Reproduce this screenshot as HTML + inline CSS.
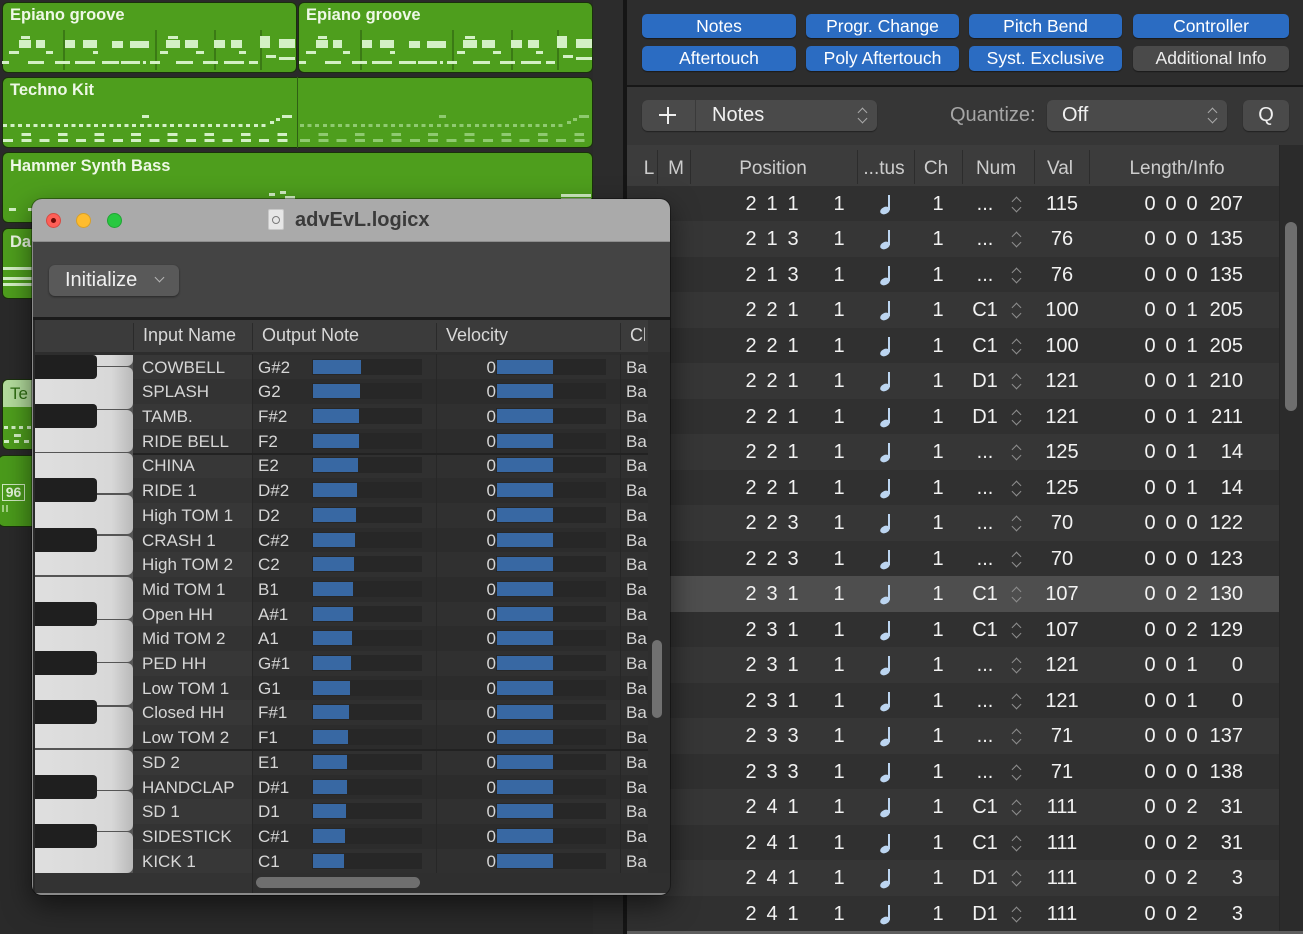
<!DOCTYPE html>
<html><head><meta charset="utf-8">
<style>
*{box-sizing:border-box;margin:0;padding:0}
body{width:1303px;height:934px;position:relative;overflow:hidden;background:#2a2a2a;font-family:"Liberation Sans",sans-serif}
.a{position:absolute}
.rg{position:absolute;background:#4e9e1d;border:1px solid #1a300c;border-radius:6px;overflow:hidden}
.tn{position:absolute;color:#eef8e6;font-weight:bold;font-size:16.5px;white-space:nowrap}
.n{position:absolute;background:#d3f0c5;height:3px}
.f .n{background:#8fca70}
.vln{position:absolute;background:#3b7a15;width:2px;top:30px;height:40px}
.bt{position:absolute;height:24px;border-radius:5px;background:#2b6cc2;color:#fff;font-size:17.5px;text-align:center;line-height:24px;box-shadow:0 1px 1px rgba(0,0,0,.45)}
.hd{position:absolute;top:145px;height:42px;line-height:48px;font-size:19px;color:#cdcdcd;transform:translateX(-50%);white-space:nowrap}
.hs{position:absolute;top:150px;height:34px;width:1px;background:#2c2c2c}
.rw{position:absolute;left:627px;width:652px;height:35.5px;background:#303030}
.rw.o{background:#363636}
.rw span{position:absolute;top:0;line-height:36px;font-size:20px;color:#f2f2f2;transform:translateX(-50%);white-space:nowrap}
.rw .p1{left:124px}.rw .p2{left:145px}.rw .p3{left:166px}.rw .q{left:212px}.rw .ch{left:311px}.rw .nm{left:358px}.rw .vl{left:435px}
.rw .l1{left:523px}.rw .l2{left:544px}.rw .l3{left:565px}.rw .l4{left:616px;transform:translateX(-100%)}
.nt{position:absolute;left:252px;top:9px;width:12px;height:19px}
.nt::before{content:"";position:absolute;right:1px;top:0;width:2px;height:15px;background:#bcd5f0}
.nt::after{content:"";position:absolute;left:1px;bottom:0;width:10px;height:7px;border-radius:50%;background:#bcd5f0;transform:rotate(-25deg)}
.cv{position:absolute;left:383px;top:9px;width:12px;height:18px}
.cv::before{content:"";position:absolute;left:2.5px;top:3px;width:6px;height:6px;border-left:1.6px solid #8d8d8d;border-top:1.6px solid #8d8d8d;transform:rotate(45deg)}
.cv::after{content:"";position:absolute;left:2.5px;top:9px;width:6px;height:6px;border-right:1.6px solid #8d8d8d;border-bottom:1.6px solid #8d8d8d;transform:rotate(45deg)}
.win{position:absolute;left:32px;top:199px;width:638px;height:696px;border-radius:10px;overflow:hidden;background:#2d2d2d;box-shadow:0 10px 28px rgba(0,0,0,.55),0 0 0 1px rgba(0,0,0,.35)}
.wr{position:absolute;left:101px;width:515px;height:24.7px;background:#303030;overflow:hidden}
.wr.o{background:#2c2c2c}
.wr .nc{position:absolute;left:0;top:0;width:119px;height:100%;background:rgba(255,255,255,.035)}
.wr span{position:absolute;top:0;line-height:25px;font-size:17px;color:#d6d6d6;white-space:nowrap}
.wr .in{left:9px}.wr .on{left:125px}
.wr .tr{position:absolute;top:4px;height:16px;background:#272727}
.wr .fl{position:absolute;top:5px;height:14px;background:#3868a3}
.wr .z{left:363px;transform:translateX(-100%)}
.wr .ba{left:493px}
.wk{position:absolute;left:0;width:98px;background:linear-gradient(90deg,#dfdfdf 0,#d8d8d8 78%,#b9b9b9 100%);border-radius:0 6px 6px 0}
.bk{position:absolute;left:0;width:62px;height:24px;background:#1f1f1f;border-radius:0 4px 4px 0}
.pc{position:absolute;width:10px;height:17px}
.pc::before{content:"";position:absolute;left:2px;top:2px;width:6px;height:6px;border-left:1.5px solid #a9a9a9;border-top:1.5px solid #a9a9a9;transform:rotate(45deg)}
.pc::after{content:"";position:absolute;left:2px;top:8px;width:6px;height:6px;border-right:1.5px solid #a9a9a9;border-bottom:1.5px solid #a9a9a9;transform:rotate(45deg)}
</style></head><body>

<!-- LEFT TRACKS AREA -->
<div class="a" style="left:593px;top:0;width:31px;height:934px;background:#2c2c2c"></div>
<div class="a" style="left:623px;top:0;width:4px;height:934px;background:#151515"></div>

<div class="rg" style="left:2px;top:2px;width:295px;height:71px"></div>
<div class="rg" style="left:298px;top:2px;width:295px;height:71px"></div>
<div class="rg" style="left:2px;top:77px;width:591px;height:71px"></div>
<div class="a" style="left:297px;top:77px;width:1px;height:71px;background:#2f5f14"></div>
<div class="rg" style="left:2px;top:152px;width:591px;height:71px"></div>
<div class="rg" style="left:2px;top:228px;width:60px;height:71px"></div>
<div class="rg" style="left:2px;top:379px;width:60px;height:71px;background:#4e9e1d"></div>
<div class="a" style="left:3px;top:380px;width:58px;height:27px;background:#b3dc9d;border-radius:5px 5px 0 0"></div>
<div class="rg" style="left:-2px;top:455px;width:64px;height:72px;background:#4a9a1b"></div>

<div class="tn" style="left:10px;top:6px">Epiano groove</div>
<div class="tn" style="left:306px;top:6px">Epiano groove</div>
<div class="tn" style="left:10px;top:81px">Techno Kit</div>
<div class="tn" style="left:10px;top:157px">Hammer Synth Bass</div>
<div class="tn" style="left:10px;top:233px">Da</div>
<div class="tn" style="left:10px;top:384px;color:#2e6d12;font-weight:normal;font-size:17px">Te</div>
<div class="a" style="left:2px;top:484px;width:23px;height:17px;border:1px solid #cfe8c0;color:#e3f3d9;font-size:14px;font-weight:bold;line-height:15px;text-align:center">96</div>
<div class="n" style="left:2px;top:505px;width:2px;height:7px;background:#9fd080"></div>
<div class="n" style="left:6px;top:505px;width:2px;height:7px;background:#9fd080"></div>

<!-- Epiano pattern -->
<div class="a" style="left:0;top:0">
<div class="vln" style="left:63px"></div><div class="vln" style="left:155px"></div><div class="vln" style="left:214px"></div><div class="vln" style="left:260px"></div>
<div class="n" style="left:19px;top:40px;width:12px;height:8px"></div><div class="n" style="left:21px;top:36px;width:9px"></div>
<div class="n" style="left:36px;top:40px;width:9px;height:8px"></div>
<div class="n" style="left:65px;top:40px;width:10px;height:8px"></div>
<div class="n" style="left:83px;top:40px;width:14px;height:8px"></div>
<div class="n" style="left:112px;top:41px;width:11px;height:7px"></div>
<div class="n" style="left:130px;top:41px;width:19px;height:7px"></div>
<div class="n" style="left:166px;top:40px;width:14px;height:8px"></div><div class="n" style="left:168px;top:36px;width:10px"></div>
<div class="n" style="left:185px;top:40px;width:13px;height:8px"></div>
<div class="n" style="left:214px;top:40px;width:11px;height:8px"></div>
<div class="n" style="left:231px;top:40px;width:11px;height:8px"></div>
<div class="n" style="left:260px;top:36px;width:10px;height:12px"></div>
<div class="n" style="left:279px;top:39px;width:16px;height:9px"></div>
<div class="n" style="left:9px;top:51px;width:10px"></div><div class="n" style="left:46px;top:51px;width:7px"></div>
<div class="n" style="left:93px;top:51px;width:5px"></div><div class="n" style="left:160px;top:51px;width:8px"></div>
<div class="n" style="left:196px;top:51px;width:8px"></div><div class="n" style="left:239px;top:51px;width:7px"></div>
<div class="n" style="left:266px;top:55px;width:10px"></div><div class="n" style="left:279px;top:57px;width:16px"></div>
<div class="n" style="left:2px;top:61px;width:7px"></div><div class="n" style="left:28px;top:61px;width:16px"></div>
<div class="n" style="left:55px;top:61px;width:15px"></div><div class="n" style="left:75px;top:61px;width:20px"></div>
<div class="n" style="left:102px;top:61px;width:17px"></div><div class="n" style="left:121px;top:61px;width:19px"></div>
<div class="n" style="left:143px;top:61px;width:3px"></div><div class="n" style="left:150px;top:61px;width:10px"></div>
<div class="n" style="left:176px;top:61px;width:17px"></div><div class="n" style="left:203px;top:61px;width:15px"></div>
<div class="n" style="left:224px;top:61px;width:20px"></div><div class="n" style="left:249px;top:61px;width:9px"></div>
</div>
<div class="a" style="left:297px;top:0">
<div class="vln" style="left:63px"></div><div class="vln" style="left:155px"></div><div class="vln" style="left:214px"></div><div class="vln" style="left:260px"></div>
<div class="n" style="left:19px;top:40px;width:12px;height:8px"></div><div class="n" style="left:21px;top:36px;width:9px"></div>
<div class="n" style="left:36px;top:40px;width:9px;height:8px"></div>
<div class="n" style="left:65px;top:40px;width:10px;height:8px"></div>
<div class="n" style="left:83px;top:40px;width:14px;height:8px"></div>
<div class="n" style="left:112px;top:41px;width:11px;height:7px"></div>
<div class="n" style="left:130px;top:41px;width:19px;height:7px"></div>
<div class="n" style="left:166px;top:40px;width:14px;height:8px"></div><div class="n" style="left:168px;top:36px;width:10px"></div>
<div class="n" style="left:185px;top:40px;width:13px;height:8px"></div>
<div class="n" style="left:214px;top:40px;width:11px;height:8px"></div>
<div class="n" style="left:231px;top:40px;width:11px;height:8px"></div>
<div class="n" style="left:260px;top:36px;width:10px;height:12px"></div>
<div class="n" style="left:279px;top:39px;width:16px;height:9px"></div>
<div class="n" style="left:9px;top:51px;width:10px"></div><div class="n" style="left:46px;top:51px;width:7px"></div>
<div class="n" style="left:93px;top:51px;width:5px"></div><div class="n" style="left:160px;top:51px;width:8px"></div>
<div class="n" style="left:196px;top:51px;width:8px"></div><div class="n" style="left:239px;top:51px;width:7px"></div>
<div class="n" style="left:266px;top:55px;width:10px"></div><div class="n" style="left:279px;top:57px;width:16px"></div>
<div class="n" style="left:2px;top:61px;width:7px"></div><div class="n" style="left:28px;top:61px;width:16px"></div>
<div class="n" style="left:55px;top:61px;width:15px"></div><div class="n" style="left:75px;top:61px;width:20px"></div>
<div class="n" style="left:102px;top:61px;width:17px"></div><div class="n" style="left:121px;top:61px;width:19px"></div>
<div class="n" style="left:143px;top:61px;width:3px"></div><div class="n" style="left:150px;top:61px;width:10px"></div>
<div class="n" style="left:176px;top:61px;width:17px"></div><div class="n" style="left:203px;top:61px;width:15px"></div>
<div class="n" style="left:224px;top:61px;width:20px"></div><div class="n" style="left:249px;top:61px;width:9px"></div>
</div>

<!-- Techno pattern -->
<div class="a" style="left:0;top:0">
<div class="n" style="left:3px;top:124px;width:265px;background:repeating-linear-gradient(90deg,#d3f0c5 0 4px,transparent 4px 7.6px)"></div>
<div class="n" style="left:3px;top:133px;width:292px;background:repeating-linear-gradient(90deg,transparent 0 18.3px,#d3f0c5 18.3px 28px,transparent 28px 36.6px)"></div>
<div class="n" style="left:3px;top:139px;width:292px;background:repeating-linear-gradient(90deg,#d3f0c5 0 10px,transparent 10px 18.3px)"></div>
<div class="n" style="left:142px;top:115px;width:7px"></div><div class="n" style="left:270px;top:121px;width:4px"></div>
<div class="n" style="left:276px;top:118px;width:4px"></div><div class="n" style="left:282px;top:115px;width:10px"></div>
</div>
<div class="a f" style="left:297px;top:0">
<div class="n" style="left:3px;top:124px;width:265px;background:repeating-linear-gradient(90deg,#8fca70 0 4px,transparent 4px 7.6px)"></div>
<div class="n" style="left:3px;top:133px;width:290px;background:repeating-linear-gradient(90deg,transparent 0 18.3px,#8fca70 18.3px 28px,transparent 28px 36.6px)"></div>
<div class="n" style="left:3px;top:139px;width:290px;background:repeating-linear-gradient(90deg,#8fca70 0 10px,transparent 10px 18.3px)"></div>
<div class="n" style="left:142px;top:115px;width:7px"></div><div class="n" style="left:270px;top:121px;width:4px"></div>
<div class="n" style="left:276px;top:118px;width:4px"></div><div class="n" style="left:282px;top:115px;width:10px"></div>
</div>
<!-- Hammer -->
<div class="n" style="left:9px;top:208px;width:7px"></div><div class="n" style="left:28px;top:208px;width:4px"></div>
<div class="n" style="left:269px;top:193px;width:6px"></div><div class="n" style="left:280px;top:191px;width:6px"></div>
<div class="n" style="left:285px;top:196px;width:10px"></div>
<div class="n" style="left:561px;top:194px;width:30px"></div><div class="n" style="left:561px;top:198px;width:30px;height:2px"></div>
<!-- Da -->
<div class="n" style="left:3px;top:267px;width:29px"></div><div class="n" style="left:3px;top:277px;width:29px"></div><div class="n" style="left:3px;top:283px;width:29px"></div>
<!-- Te -->
<div class="n" style="left:4px;top:426px;width:28px;background:repeating-linear-gradient(90deg,#d3f0c5 0 4px,transparent 4px 7.6px)"></div>
<div class="n" style="left:4px;top:434px;width:28px;background:repeating-linear-gradient(90deg,transparent 0 10px,#d3f0c5 10px 17px,transparent 17px 22px)"></div>
<div class="n" style="left:4px;top:440px;width:28px;background:repeating-linear-gradient(90deg,#d3f0c5 0 5px,transparent 5px 10px)"></div>

<!-- RIGHT PANEL -->
<div class="a" style="left:627px;top:0;width:676px;height:85px;background:#2d2d2d"></div>
<div class="a" style="left:627px;top:85px;width:676px;height:2px;background:#171717"></div>
<div class="a" style="left:627px;top:87px;width:676px;height:58px;background:#363636"></div>
<div class="a" style="left:627px;top:145px;width:652px;height:42px;background:#3c3c3c"></div>
<div class="a" style="left:1279px;top:145px;width:24px;height:789px;background:#2b2b2b;border-left:1px solid #262626"></div>
<div class="a" style="left:1285px;top:222px;width:12px;height:189px;background:#6e6e6e;border-radius:6px"></div>

<div class="bt" style="left:642px;top:14px;width:154px">Notes</div>
<div class="bt" style="left:806px;top:14px;width:153px">Progr. Change</div>
<div class="bt" style="left:969px;top:14px;width:153px">Pitch Bend</div>
<div class="bt" style="left:1133px;top:14px;width:156px">Controller</div>
<div class="bt" style="left:642px;top:46px;width:154px;height:25px">Aftertouch</div>
<div class="bt" style="left:806px;top:46px;width:153px;height:25px">Poly Aftertouch</div>
<div class="bt" style="left:969px;top:46px;width:153px;height:25px">Syst. Exclusive</div>
<div class="bt" style="left:1133px;top:46px;width:156px;height:25px;background:#4a4a4a;color:#eee">Additional Info</div>

<div class="a" style="left:642px;top:100px;width:235px;height:31px;background:#4a4a4a;border-radius:6px;box-shadow:0 1px 1px rgba(0,0,0,.4)"></div>
<div class="a" style="left:695px;top:100px;width:1px;height:31px;background:#3a3a3a"></div>
<div class="a" style="left:659px;top:114px;width:17px;height:2px;background:#eee"></div>
<div class="a" style="left:666.5px;top:106.5px;width:2px;height:17px;background:#eee"></div>
<div class="a" style="left:712px;top:100px;line-height:31px;font-size:20px;color:#f0f0f0">Notes</div>
<div class="pc" style="left:857px;top:107px"></div>
<div class="a" style="left:950px;top:100px;line-height:31px;font-size:20px;color:#a6a6a6">Quantize:</div>
<div class="a" style="left:1047px;top:100px;width:180px;height:31px;background:#4a4a4a;border-radius:6px;box-shadow:0 1px 1px rgba(0,0,0,.4)"></div>
<div class="a" style="left:1062px;top:100px;line-height:31px;font-size:20px;color:#f0f0f0">Off</div>
<div class="pc" style="left:1207px;top:107px"></div>
<div class="a" style="left:1243px;top:100px;width:46px;height:31px;background:#4a4a4a;border-radius:6px;line-height:31px;font-size:20px;color:#f0f0f0;text-align:center;box-shadow:0 1px 1px rgba(0,0,0,.4)">Q</div>

<div class="hs" style="left:657px"></div><div class="hs" style="left:690px"></div><div class="hs" style="left:857px"></div>
<div class="hs" style="left:914px"></div><div class="hs" style="left:962px"></div><div class="hs" style="left:1034px"></div><div class="hs" style="left:1089px"></div>
<div class="hd" style="left:649px">L</div>
<div class="hd" style="left:676px">M</div>
<div class="hd" style="left:773px">Position</div>
<div class="hd" style="left:884px">...tus</div>
<div class="hd" style="left:936px">Ch</div>
<div class="hd" style="left:996px">Num</div>
<div class="hd" style="left:1060px">Val</div>
<div class="hd" style="left:1177px">Length/Info</div>

<div class="rw" style="top:185.5px"><span class="p1">2</span><span class="p2">1</span><span class="p3">1</span><span class="q">1</span><i class="nt"></i><span class="ch">1</span><span class="nm">...</span><i class="cv"></i><span class="vl">115</span><span class="l1">0</span><span class="l2">0</span><span class="l3">0</span><span class="l4">207</span></div>
<div class="rw o" style="top:221px"><span class="p1">2</span><span class="p2">1</span><span class="p3">3</span><span class="q">1</span><i class="nt"></i><span class="ch">1</span><span class="nm">...</span><i class="cv"></i><span class="vl">76</span><span class="l1">0</span><span class="l2">0</span><span class="l3">0</span><span class="l4">135</span></div>
<div class="rw" style="top:256.5px"><span class="p1">2</span><span class="p2">1</span><span class="p3">3</span><span class="q">1</span><i class="nt"></i><span class="ch">1</span><span class="nm">...</span><i class="cv"></i><span class="vl">76</span><span class="l1">0</span><span class="l2">0</span><span class="l3">0</span><span class="l4">135</span></div>
<div class="rw o" style="top:292px"><span class="p1">2</span><span class="p2">2</span><span class="p3">1</span><span class="q">1</span><i class="nt"></i><span class="ch">1</span><span class="nm">C1</span><i class="cv"></i><span class="vl">100</span><span class="l1">0</span><span class="l2">0</span><span class="l3">1</span><span class="l4">205</span></div>
<div class="rw" style="top:327.5px"><span class="p1">2</span><span class="p2">2</span><span class="p3">1</span><span class="q">1</span><i class="nt"></i><span class="ch">1</span><span class="nm">C1</span><i class="cv"></i><span class="vl">100</span><span class="l1">0</span><span class="l2">0</span><span class="l3">1</span><span class="l4">205</span></div>
<div class="rw o" style="top:363px"><span class="p1">2</span><span class="p2">2</span><span class="p3">1</span><span class="q">1</span><i class="nt"></i><span class="ch">1</span><span class="nm">D1</span><i class="cv"></i><span class="vl">121</span><span class="l1">0</span><span class="l2">0</span><span class="l3">1</span><span class="l4">210</span></div>
<div class="rw" style="top:398.5px"><span class="p1">2</span><span class="p2">2</span><span class="p3">1</span><span class="q">1</span><i class="nt"></i><span class="ch">1</span><span class="nm">D1</span><i class="cv"></i><span class="vl">121</span><span class="l1">0</span><span class="l2">0</span><span class="l3">1</span><span class="l4">211</span></div>
<div class="rw o" style="top:434px"><span class="p1">2</span><span class="p2">2</span><span class="p3">1</span><span class="q">1</span><i class="nt"></i><span class="ch">1</span><span class="nm">...</span><i class="cv"></i><span class="vl">125</span><span class="l1">0</span><span class="l2">0</span><span class="l3">1</span><span class="l4">14</span></div>
<div class="rw" style="top:469.5px"><span class="p1">2</span><span class="p2">2</span><span class="p3">1</span><span class="q">1</span><i class="nt"></i><span class="ch">1</span><span class="nm">...</span><i class="cv"></i><span class="vl">125</span><span class="l1">0</span><span class="l2">0</span><span class="l3">1</span><span class="l4">14</span></div>
<div class="rw o" style="top:505px"><span class="p1">2</span><span class="p2">2</span><span class="p3">3</span><span class="q">1</span><i class="nt"></i><span class="ch">1</span><span class="nm">...</span><i class="cv"></i><span class="vl">70</span><span class="l1">0</span><span class="l2">0</span><span class="l3">0</span><span class="l4">122</span></div>
<div class="rw" style="top:540.5px"><span class="p1">2</span><span class="p2">2</span><span class="p3">3</span><span class="q">1</span><i class="nt"></i><span class="ch">1</span><span class="nm">...</span><i class="cv"></i><span class="vl">70</span><span class="l1">0</span><span class="l2">0</span><span class="l3">0</span><span class="l4">123</span></div>
<div class="rw o" style="top:576px;background:#4e4e4e"><span class="p1">2</span><span class="p2">3</span><span class="p3">1</span><span class="q">1</span><i class="nt"></i><span class="ch">1</span><span class="nm">C1</span><i class="cv"></i><span class="vl">107</span><span class="l1">0</span><span class="l2">0</span><span class="l3">2</span><span class="l4">130</span></div>
<div class="rw" style="top:611.5px"><span class="p1">2</span><span class="p2">3</span><span class="p3">1</span><span class="q">1</span><i class="nt"></i><span class="ch">1</span><span class="nm">C1</span><i class="cv"></i><span class="vl">107</span><span class="l1">0</span><span class="l2">0</span><span class="l3">2</span><span class="l4">129</span></div>
<div class="rw o" style="top:647px"><span class="p1">2</span><span class="p2">3</span><span class="p3">1</span><span class="q">1</span><i class="nt"></i><span class="ch">1</span><span class="nm">...</span><i class="cv"></i><span class="vl">121</span><span class="l1">0</span><span class="l2">0</span><span class="l3">1</span><span class="l4">0</span></div>
<div class="rw" style="top:682.5px"><span class="p1">2</span><span class="p2">3</span><span class="p3">1</span><span class="q">1</span><i class="nt"></i><span class="ch">1</span><span class="nm">...</span><i class="cv"></i><span class="vl">121</span><span class="l1">0</span><span class="l2">0</span><span class="l3">1</span><span class="l4">0</span></div>
<div class="rw o" style="top:718px"><span class="p1">2</span><span class="p2">3</span><span class="p3">3</span><span class="q">1</span><i class="nt"></i><span class="ch">1</span><span class="nm">...</span><i class="cv"></i><span class="vl">71</span><span class="l1">0</span><span class="l2">0</span><span class="l3">0</span><span class="l4">137</span></div>
<div class="rw" style="top:753.5px"><span class="p1">2</span><span class="p2">3</span><span class="p3">3</span><span class="q">1</span><i class="nt"></i><span class="ch">1</span><span class="nm">...</span><i class="cv"></i><span class="vl">71</span><span class="l1">0</span><span class="l2">0</span><span class="l3">0</span><span class="l4">138</span></div>
<div class="rw o" style="top:789px"><span class="p1">2</span><span class="p2">4</span><span class="p3">1</span><span class="q">1</span><i class="nt"></i><span class="ch">1</span><span class="nm">C1</span><i class="cv"></i><span class="vl">111</span><span class="l1">0</span><span class="l2">0</span><span class="l3">2</span><span class="l4">31</span></div>
<div class="rw" style="top:824.5px"><span class="p1">2</span><span class="p2">4</span><span class="p3">1</span><span class="q">1</span><i class="nt"></i><span class="ch">1</span><span class="nm">C1</span><i class="cv"></i><span class="vl">111</span><span class="l1">0</span><span class="l2">0</span><span class="l3">2</span><span class="l4">31</span></div>
<div class="rw o" style="top:860px"><span class="p1">2</span><span class="p2">4</span><span class="p3">1</span><span class="q">1</span><i class="nt"></i><span class="ch">1</span><span class="nm">D1</span><i class="cv"></i><span class="vl">111</span><span class="l1">0</span><span class="l2">0</span><span class="l3">2</span><span class="l4">3</span></div>
<div class="rw" style="top:895.5px"><span class="p1">2</span><span class="p2">4</span><span class="p3">1</span><span class="q">1</span><i class="nt"></i><span class="ch">1</span><span class="nm">D1</span><i class="cv"></i><span class="vl">111</span><span class="l1">0</span><span class="l2">0</span><span class="l3">2</span><span class="l4">3</span></div>
<div class="a" style="left:627px;top:931px;width:676px;height:3px;background:#5e5e5e"></div>

<!-- WINDOW -->
<div class="win">
  <div class="a" style="left:0;top:0;width:638px;height:43px;background:#aaaaaa;border-bottom:1px solid #8e8e8e"></div>
  <div class="a" style="left:13.5px;top:13.5px;width:15px;height:15px;border-radius:50%;background:#fe5f57;border:0.5px solid #d84a42"></div>
  <div class="a" style="left:18.5px;top:18.5px;width:5px;height:5px;border-radius:50%;background:#6e0b06"></div>
  <div class="a" style="left:43.5px;top:13.5px;width:15px;height:15px;border-radius:50%;background:#febc2e;border:0.5px solid #d9a027"></div>
  <div class="a" style="left:74.5px;top:13.5px;width:15px;height:15px;border-radius:50%;background:#28c840;border:0.5px solid #20a534"></div>
  <div class="a" style="left:236px;top:10px;width:16px;height:21px;background:#e6e6e6;border-radius:2px;border:1px solid #c8c8c8"></div>
  <div class="a" style="left:240px;top:17px;width:8px;height:8px;border-radius:50%;border:1.5px solid #7a7a7a"></div>
  <div class="a" style="left:263px;top:0;line-height:43px;font-size:20px;font-weight:bold;color:#3a3a3a">advEvL.logicx</div>

  <div class="a" style="left:0;top:43px;width:638px;height:75px;background:#444444"></div>
  <div class="a" style="left:17px;top:66px;width:130px;height:31px;background:#595959;border-radius:6px;box-shadow:0 1px 2px rgba(0,0,0,.45)"></div>
  <div class="a" style="left:33px;top:66px;line-height:31px;font-size:20px;color:#f0f0f0">Initialize</div>
  <div class="a" style="left:124px;top:75px;width:7px;height:7px;border-right:1.5px solid #b5b5b5;border-bottom:1.5px solid #b5b5b5;transform:rotate(45deg)"></div>

  <div class="a" style="left:0;top:118px;width:638px;height:3px;background:#1b1b1b"></div>
  <div class="a" style="left:0;top:121px;width:638px;height:32px;background:#3b3b3b"></div>
  <div class="a" style="left:616px;top:121px;width:22px;height:553px;background:#2e2e2e"></div>
  <div class="a" style="left:616px;top:121px;width:22px;height:32px;background:#333"></div>
  <div class="a" style="left:101px;top:124px;width:1px;height:27px;background:#2a2a2a"></div>
  <div class="a" style="left:220px;top:124px;width:1px;height:27px;background:#2a2a2a"></div>
  <div class="a" style="left:404px;top:124px;width:1px;height:27px;background:#2a2a2a"></div>
  <div class="a" style="left:588px;top:124px;width:1px;height:27px;background:#2a2a2a"></div>
  <div class="a" style="left:111px;top:121px;line-height:30px;font-size:18px;color:#d8d8d8">Input Name</div>
  <div class="a" style="left:230px;top:121px;line-height:30px;font-size:18px;color:#d8d8d8">Output Note</div>
  <div class="a" style="left:414px;top:121px;line-height:30px;font-size:18px;color:#d8d8d8">Velocity</div>
  <div class="a" style="left:598px;top:121px;width:15px;overflow:hidden;line-height:30px;font-size:18px;color:#d8d8d8;white-space:nowrap">Ch</div>

  <!-- rows -->
  <div class="wr" style="top:155.65px"><i class="nc"></i><span class="in">COWBELL</span><span class="on">G#2</span><i class="tr" style="left:179px;width:110px"></i><i class="fl" style="left:180px;width:48px"></i><span class="z">0</span><i class="tr" style="left:363px;width:110px"></i><i class="fl" style="left:364px;width:56px"></i><span class="ba">Ba</span></div>
  <div class="wr o" style="top:180.35px"><i class="nc"></i><span class="in">SPLASH</span><span class="on">G2</span><i class="tr" style="left:179px;width:110px"></i><i class="fl" style="left:180px;width:47px"></i><span class="z">0</span><i class="tr" style="left:363px;width:110px"></i><i class="fl" style="left:364px;width:56px"></i><span class="ba">Ba</span></div>
  <div class="wr" style="top:205.05px"><i class="nc"></i><span class="in">TAMB.</span><span class="on">F#2</span><i class="tr" style="left:179px;width:110px"></i><i class="fl" style="left:180px;width:46px"></i><span class="z">0</span><i class="tr" style="left:363px;width:110px"></i><i class="fl" style="left:364px;width:56px"></i><span class="ba">Ba</span></div>
  <div class="wr o" style="top:229.75px"><i class="nc"></i><span class="in">RIDE BELL</span><span class="on">F2</span><i class="tr" style="left:179px;width:110px"></i><i class="fl" style="left:180px;width:46px"></i><span class="z">0</span><i class="tr" style="left:363px;width:110px"></i><i class="fl" style="left:364px;width:56px"></i><span class="ba">Ba</span></div>
  <div class="wr" style="top:254.45px"><i class="nc"></i><span class="in">CHINA</span><span class="on">E2</span><i class="tr" style="left:179px;width:110px"></i><i class="fl" style="left:180px;width:45px"></i><span class="z">0</span><i class="tr" style="left:363px;width:110px"></i><i class="fl" style="left:364px;width:56px"></i><span class="ba">Ba</span></div>
  <div class="wr o" style="top:279.15px"><i class="nc"></i><span class="in">RIDE 1</span><span class="on">D#2</span><i class="tr" style="left:179px;width:110px"></i><i class="fl" style="left:180px;width:44px"></i><span class="z">0</span><i class="tr" style="left:363px;width:110px"></i><i class="fl" style="left:364px;width:56px"></i><span class="ba">Ba</span></div>
  <div class="wr" style="top:303.85px"><i class="nc"></i><span class="in">High TOM 1</span><span class="on">D2</span><i class="tr" style="left:179px;width:110px"></i><i class="fl" style="left:180px;width:43px"></i><span class="z">0</span><i class="tr" style="left:363px;width:110px"></i><i class="fl" style="left:364px;width:56px"></i><span class="ba">Ba</span></div>
  <div class="wr o" style="top:328.55px"><i class="nc"></i><span class="in">CRASH 1</span><span class="on">C#2</span><i class="tr" style="left:179px;width:110px"></i><i class="fl" style="left:180px;width:42px"></i><span class="z">0</span><i class="tr" style="left:363px;width:110px"></i><i class="fl" style="left:364px;width:56px"></i><span class="ba">Ba</span></div>
  <div class="wr" style="top:353.25px"><i class="nc"></i><span class="in">High TOM 2</span><span class="on">C2</span><i class="tr" style="left:179px;width:110px"></i><i class="fl" style="left:180px;width:41px"></i><span class="z">0</span><i class="tr" style="left:363px;width:110px"></i><i class="fl" style="left:364px;width:56px"></i><span class="ba">Ba</span></div>
  <div class="wr o" style="top:377.95px"><i class="nc"></i><span class="in">Mid TOM 1</span><span class="on">B1</span><i class="tr" style="left:179px;width:110px"></i><i class="fl" style="left:180px;width:40px"></i><span class="z">0</span><i class="tr" style="left:363px;width:110px"></i><i class="fl" style="left:364px;width:56px"></i><span class="ba">Ba</span></div>
  <div class="wr" style="top:402.65px"><i class="nc"></i><span class="in">Open HH</span><span class="on">A#1</span><i class="tr" style="left:179px;width:110px"></i><i class="fl" style="left:180px;width:40px"></i><span class="z">0</span><i class="tr" style="left:363px;width:110px"></i><i class="fl" style="left:364px;width:56px"></i><span class="ba">Ba</span></div>
  <div class="wr o" style="top:427.35px"><i class="nc"></i><span class="in">Mid TOM 2</span><span class="on">A1</span><i class="tr" style="left:179px;width:110px"></i><i class="fl" style="left:180px;width:39px"></i><span class="z">0</span><i class="tr" style="left:363px;width:110px"></i><i class="fl" style="left:364px;width:56px"></i><span class="ba">Ba</span></div>
  <div class="wr" style="top:452.05px"><i class="nc"></i><span class="in">PED HH</span><span class="on">G#1</span><i class="tr" style="left:179px;width:110px"></i><i class="fl" style="left:180px;width:38px"></i><span class="z">0</span><i class="tr" style="left:363px;width:110px"></i><i class="fl" style="left:364px;width:56px"></i><span class="ba">Ba</span></div>
  <div class="wr o" style="top:476.75px"><i class="nc"></i><span class="in">Low TOM 1</span><span class="on">G1</span><i class="tr" style="left:179px;width:110px"></i><i class="fl" style="left:180px;width:37px"></i><span class="z">0</span><i class="tr" style="left:363px;width:110px"></i><i class="fl" style="left:364px;width:56px"></i><span class="ba">Ba</span></div>
  <div class="wr" style="top:501.45px"><i class="nc"></i><span class="in">Closed HH</span><span class="on">F#1</span><i class="tr" style="left:179px;width:110px"></i><i class="fl" style="left:180px;width:36px"></i><span class="z">0</span><i class="tr" style="left:363px;width:110px"></i><i class="fl" style="left:364px;width:56px"></i><span class="ba">Ba</span></div>
  <div class="wr o" style="top:526.15px"><i class="nc"></i><span class="in">Low TOM 2</span><span class="on">F1</span><i class="tr" style="left:179px;width:110px"></i><i class="fl" style="left:180px;width:35px"></i><span class="z">0</span><i class="tr" style="left:363px;width:110px"></i><i class="fl" style="left:364px;width:56px"></i><span class="ba">Ba</span></div>
  <div class="wr" style="top:550.85px"><i class="nc"></i><span class="in">SD 2</span><span class="on">E1</span><i class="tr" style="left:179px;width:110px"></i><i class="fl" style="left:180px;width:34px"></i><span class="z">0</span><i class="tr" style="left:363px;width:110px"></i><i class="fl" style="left:364px;width:56px"></i><span class="ba">Ba</span></div>
  <div class="wr o" style="top:575.55px"><i class="nc"></i><span class="in">HANDCLAP</span><span class="on">D#1</span><i class="tr" style="left:179px;width:110px"></i><i class="fl" style="left:180px;width:34px"></i><span class="z">0</span><i class="tr" style="left:363px;width:110px"></i><i class="fl" style="left:364px;width:56px"></i><span class="ba">Ba</span></div>
  <div class="wr" style="top:600.25px"><i class="nc"></i><span class="in">SD 1</span><span class="on">D1</span><i class="tr" style="left:179px;width:110px"></i><i class="fl" style="left:180px;width:33px"></i><span class="z">0</span><i class="tr" style="left:363px;width:110px"></i><i class="fl" style="left:364px;width:56px"></i><span class="ba">Ba</span></div>
  <div class="wr o" style="top:624.95px"><i class="nc"></i><span class="in">SIDESTICK</span><span class="on">C#1</span><i class="tr" style="left:179px;width:110px"></i><i class="fl" style="left:180px;width:32px"></i><span class="z">0</span><i class="tr" style="left:363px;width:110px"></i><i class="fl" style="left:364px;width:56px"></i><span class="ba">Ba</span></div>
  <div class="wr" style="top:649.65px"><i class="nc"></i><span class="in">KICK 1</span><span class="on">C1</span><i class="tr" style="left:179px;width:110px"></i><i class="fl" style="left:180px;width:31px"></i><span class="z">0</span><i class="tr" style="left:363px;width:110px"></i><i class="fl" style="left:364px;width:56px"></i><span class="ba">Ba</span></div>

  <!-- column separators & octave lines -->
  <div class="a" style="left:220px;top:155px;width:1px;height:540px;background:#262626"></div>
  <div class="a" style="left:404px;top:155px;width:1px;height:519px;background:#272727"></div>
  <div class="a" style="left:588px;top:155px;width:1px;height:519px;background:#272727"></div>
  <div class="a" style="left:101px;top:253.5px;width:515px;height:2px;background:#222"></div>
  <div class="a" style="left:101px;top:549.85px;width:515px;height:2px;background:#222"></div>

  <!-- piano -->
  <div class="a" style="left:3px;top:155.65px;width:98px;height:518.7px;overflow:hidden;background:#555">
    <div class="wk" style="top:-30.75px;height:41.7px"></div>
    <div class="wk" style="top:12.45px;height:41.7px"></div>
    <div class="wk" style="top:55.65px;height:41.7px"></div>
    <div class="wk" style="top:98.85px;height:39.7px"></div>
    <div class="wk" style="top:140.05px;height:39.6px"></div>
    <div class="wk" style="top:181.15px;height:39.7px"></div>
    <div class="wk" style="top:222.35px;height:41.7px"></div>
    <div class="wk" style="top:265.55px;height:41.7px"></div>
    <div class="wk" style="top:308.75px;height:41.7px"></div>
    <div class="wk" style="top:351.95px;height:41.75px"></div>
    <div class="wk" style="top:395.2px;height:39.75px"></div>
    <div class="wk" style="top:436.45px;height:39.6px"></div>
    <div class="wk" style="top:477.55px;height:41.15px"></div>
    <div class="bk" style="top:0px"></div>
    <div class="bk" style="top:49.4px"></div>
    <div class="bk" style="top:123.5px"></div>
    <div class="bk" style="top:172.9px"></div>
    <div class="bk" style="top:247px"></div>
    <div class="bk" style="top:296.4px"></div>
    <div class="bk" style="top:345.8px"></div>
    <div class="bk" style="top:419.9px"></div>
    <div class="bk" style="top:469.3px"></div>
  </div>
  <div class="a" style="left:0;top:121px;width:3px;height:575px;background:#2a2a2a"></div>
  <div class="a" style="left:0;top:43px;width:1px;height:653px;background:#8a8a8a"></div>

  <!-- scrollbars -->
  <div class="a" style="left:620px;top:441px;width:10px;height:78px;background:#717171;border-radius:5px"></div>
  <div class="a" style="left:3px;top:674.35px;width:635px;height:21px;background:#2f2f2f"></div>
  <div class="a" style="left:3px;top:674.35px;width:217px;height:21px;background:#333"></div>
  <div class="a" style="left:220px;top:674.35px;width:1px;height:21px;background:#262626"></div>
  <div class="a" style="left:224px;top:678px;width:164px;height:11px;background:#6f6f6f;border-radius:6px"></div>
  <div class="a" style="left:0;top:694px;width:638px;height:2px;background:#8a8a8a"></div>
</div>
</body></html>
